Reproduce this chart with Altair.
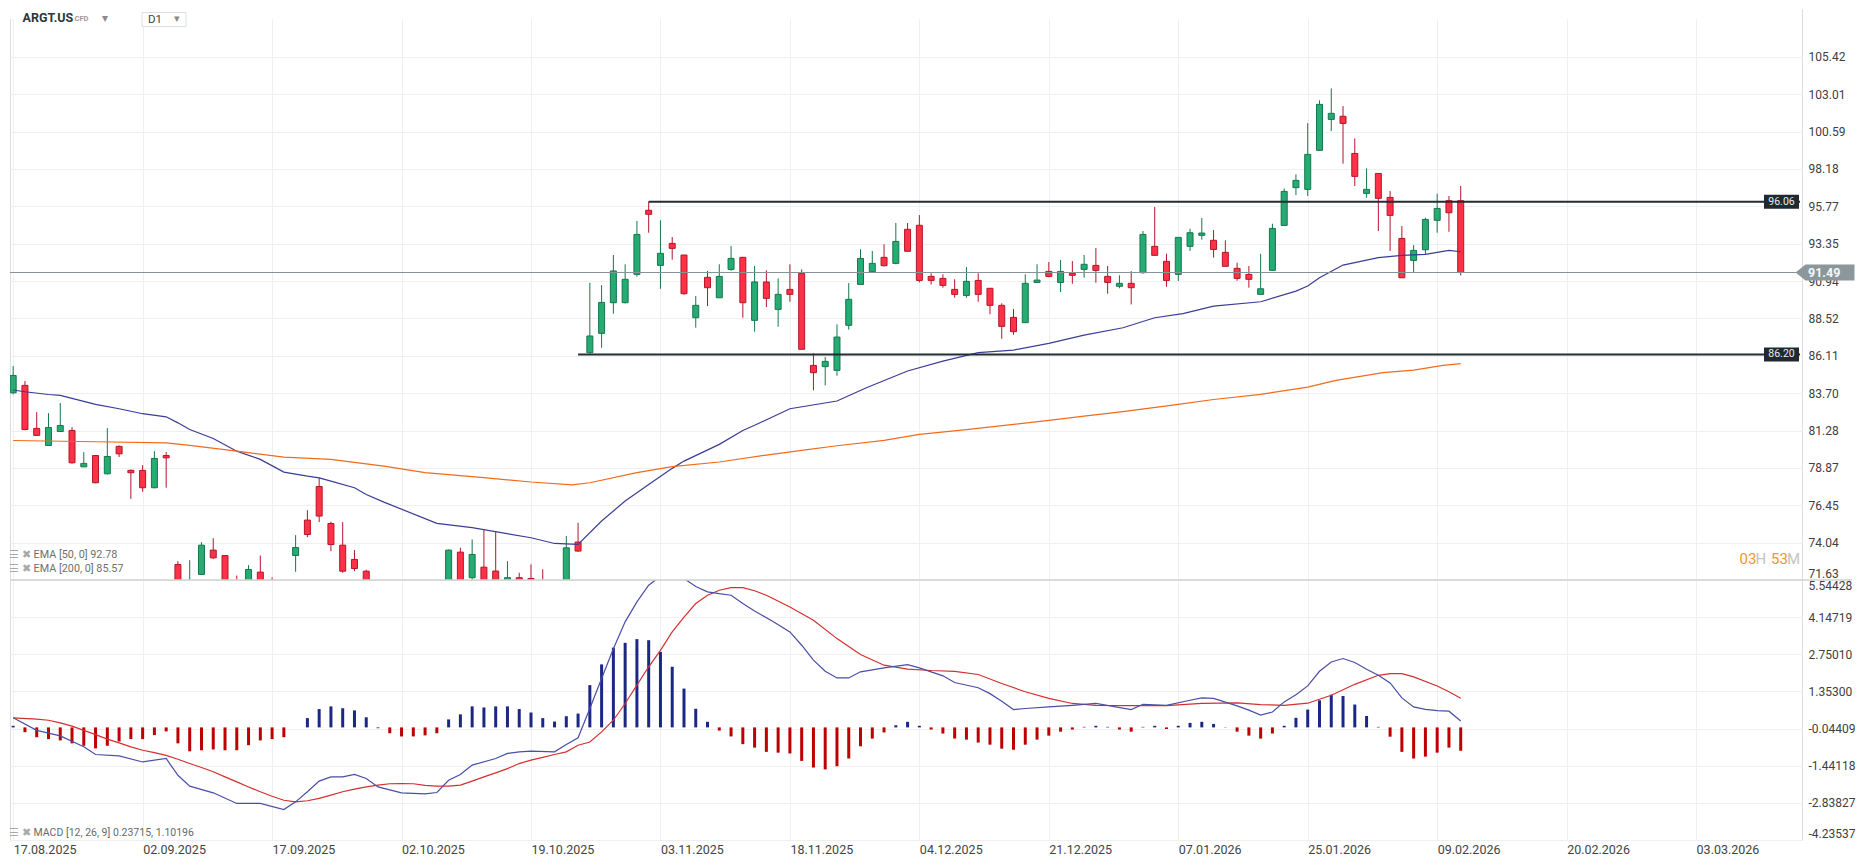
import altair as alt
import pandas as pd

# ---------------- data ----------------
OPEN = [83.72, 84.20, 81.42, 80.32, 81.22, 81.29, 78.94, 79.67, 78.49, 80.26,
        78.71, 78.71, 77.59, 79.67, 72.63, 70.60, 71.99, 73.56, 73.21, 71.50,
        71.00, 72.14, 71.30, 71.10, 73.21, 75.50, 77.67, 75.28, 73.88, 72.96,
        72.20, 71.00, 70.20, 70.00, 69.60, 70.40, 69.90, 70.80, 73.43, 71.78,
        72.46, 72.21, 71.50, 71.78, 71.73, 71.50, 71.00, 71.20, 74.08, 86.31,
        87.56, 89.54, 89.54, 91.37, 95.51, 91.95, 93.37, 92.62, 88.57, 91.18,
        89.86, 91.69, 92.47, 88.40, 90.88, 89.11, 90.40, 91.44, 85.49, 85.41,
        85.17, 88.08, 90.72, 91.54, 92.47, 92.08, 94.28, 94.54, 91.24, 91.11,
        90.40, 90.01, 90.98, 90.47, 89.37, 88.59, 88.25, 90.85, 91.56, 90.85,
        91.44, 91.69, 91.95, 91.24, 90.60, 90.79, 91.48, 93.18, 92.21, 91.37,
        93.18, 93.89, 93.57, 92.79, 91.76, 91.37, 90.08, 91.63, 94.53, 96.97,
        96.86, 99.38, 101.38, 101.58, 99.18, 96.60, 97.89, 96.34, 93.69, 92.27,
        92.96, 94.86, 96.13, 96.13]
HIGH = [85.45, 84.48, 82.47, 82.41, 83.06, 81.50, 79.89, 79.70, 81.44, 80.32,
        78.77, 79.05, 79.95, 79.89, 72.85, 72.91, 74.07, 74.33, 73.21, 71.92,
        72.59, 73.21, 71.80, 71.50, 74.53, 76.14, 78.23, 75.40, 75.37, 73.56,
        72.30, 71.40, 70.80, 70.60, 70.90, 70.80, 71.20, 73.60, 73.71, 74.25,
        74.90, 74.79, 72.85, 72.10, 72.64, 72.32, 71.50, 74.47, 75.33, 90.83,
        90.68, 92.62, 92.02, 94.82, 96.07, 94.86, 93.78, 92.62, 89.97, 91.59,
        92.02, 93.20, 92.50, 91.91, 91.63, 91.11, 92.02, 91.69, 86.27, 86.03,
        88.14, 90.81, 92.99, 92.88, 93.31, 94.69, 94.69, 95.20, 91.44, 91.37,
        91.05, 91.84, 91.44, 90.47, 89.50, 89.13, 91.37, 92.02, 92.17, 92.30,
        92.23, 92.62, 93.07, 91.91, 91.31, 91.58, 94.17, 95.72, 92.70, 93.76,
        94.32, 95.01, 94.23, 93.57, 92.12, 91.91, 92.70, 94.64, 96.92, 97.83,
        101.14, 102.61, 103.38, 102.24, 100.15, 98.22, 97.89, 96.75, 94.49, 93.26,
        95.03, 96.58, 96.43, 97.08]
LOW = [83.62, 81.30, 80.95, 80.30, 81.20, 79.14, 78.92, 77.88, 78.45, 79.57,
       76.87, 77.33, 77.55, 77.59, 70.90, 70.40, 71.95, 73.00, 70.70, 70.60,
       70.80, 70.80, 70.70, 70.30, 72.16, 74.40, 75.37, 73.49, 72.10, 72.20,
       70.70, 70.00, 69.50, 69.30, 69.20, 69.60, 69.70, 70.60, 71.00, 71.60,
       70.90, 71.00, 71.20, 71.20, 70.80, 70.70, 70.50, 71.00, 73.45, 86.25,
       86.63, 88.83, 89.50, 91.22, 94.06, 90.44, 92.32, 90.06, 87.93, 89.32,
       89.86, 91.60, 88.57, 87.67, 89.26, 87.99, 89.60, 86.53, 83.88, 84.20,
       84.82, 87.80, 90.72, 91.54, 91.88, 92.02, 92.86, 90.85, 90.72, 90.51,
       89.86, 89.86, 89.60, 88.79, 87.21, 87.47, 88.25, 90.85, 91.18, 90.23,
       90.77, 91.16, 90.83, 90.12, 90.47, 89.43, 91.41, 92.60, 90.57, 90.94,
       92.88, 93.61, 92.45, 91.89, 90.96, 90.51, 90.08, 91.63, 94.53, 96.49,
       96.43, 99.38, 100.63, 98.52, 97.08, 96.32, 94.17, 92.88, 91.15, 91.52,
       92.66, 94.06, 94.12, 91.30]
CLOSE = [84.84, 81.35, 80.97, 81.48, 81.61, 79.20, 79.16, 77.91, 79.61, 79.78,
         78.56, 77.59, 79.48, 79.52, 71.20, 71.40, 73.88, 73.06, 70.90, 70.80,
         72.31, 71.00, 70.90, 70.60, 73.73, 74.57, 75.76, 73.92, 72.20, 72.37,
         71.00, 70.20, 70.00, 69.60, 70.40, 69.90, 70.80, 73.56, 71.20, 73.28,
         71.20, 71.30, 71.78, 71.60, 71.00, 71.00, 71.20, 73.71, 73.50, 87.39,
         89.56, 91.59, 91.05, 93.95, 95.25, 92.73, 93.05, 90.12, 89.37, 90.51,
         91.24, 92.40, 89.54, 90.88, 89.82, 90.08, 90.08, 86.53, 85.02, 85.75,
         87.32, 89.76, 92.40, 92.08, 91.93, 93.50, 92.86, 90.98, 90.98, 90.66,
         90.08, 90.92, 90.08, 89.37, 88.01, 87.67, 90.79, 91.00, 91.24, 91.56,
         91.31, 92.02, 91.63, 90.85, 90.79, 90.51, 93.95, 92.60, 90.98, 93.76,
         94.06, 94.04, 92.98, 91.89, 91.11, 91.05, 90.44, 94.34, 96.73, 97.44,
         99.12, 102.35, 101.77, 101.12, 97.70, 96.86, 96.28, 95.18, 91.15, 92.92,
         94.92, 95.63, 95.35, 91.49]

EMA50_K = [0, 1, 3, 4, 5, 7, 9, 11, 13, 14, 15, 17, 19, 21, 23, 25, 26, 27, 29, 30,
           31.5, 36, 39, 44, 46, 48, 50, 52, 54, 56, 57, 60, 62, 63, 66, 70, 72.5, 76,
           79, 82, 85, 88, 91, 94.3, 97, 99.4, 102, 106, 109, 110, 111, 113, 116,
           118, 120, 122, 123]
EMA50_V = [83.90, 83.79, 83.61, 83.55, 83.36, 82.97, 82.69, 82.37, 82.17, 81.78,
           81.35, 80.77, 79.95, 79.42, 78.60, 78.34, 78.23, 78.02, 77.59, 77.15,
           76.66, 75.29, 75.01, 74.36, 73.99, 73.93, 75.44, 76.73, 77.80, 78.84,
           79.31, 80.39, 81.29, 81.62, 82.69, 83.19, 84.05, 85.13, 85.77, 86.31,
           86.48, 86.91, 87.45, 87.92, 88.57, 88.83, 89.32, 89.60, 90.29, 90.62,
           91.15, 91.97, 92.45, 92.60, 92.66, 92.92, 92.83]
EMA200_K = [0, 7, 13, 15, 19, 23, 27, 31.5, 35, 40, 44, 47.5, 49, 53, 56, 60, 64,
            67, 70, 74, 77, 81, 85, 88, 91, 94.3, 99, 102, 106, 110, 112.4, 116.4,
            119, 121.5, 123]
EMA200_V = [80.64, 80.56, 80.49, 80.32, 79.95, 79.57, 79.42, 78.98, 78.56, 78.24,
            77.96, 77.78, 77.91, 78.56, 78.95, 79.25, 79.70, 80.00, 80.30, 80.65,
            81.03, 81.34, 81.68, 81.94, 82.22, 82.50, 82.97, 83.29, 83.62, 84.09,
            84.52, 85.02, 85.19, 85.49, 85.60]

HIST = [0.06, -0.18, -0.37, -0.44, -0.49, -0.60, -0.69, -0.79, -0.69, -0.53,
        -0.44, -0.44, -0.29, -0.15, -0.60, -0.90, -0.86, -0.83, -0.86, -0.86,
        -0.67, -0.49, -0.44, -0.37, 0.00, 0.35, 0.69, 0.79, 0.72, 0.64,
        0.38, -0.03, -0.22, -0.34, -0.34, -0.30, -0.22, 0.30, 0.49, 0.79,
        0.75, 0.79, 0.79, 0.69, 0.56, 0.35, 0.22, 0.42, 0.52, 1.59,
        2.37, 3.00, 3.18, 3.32, 3.28, 2.84, 2.28, 1.46, 0.70, 0.21,
        -0.12, -0.34, -0.63, -0.76, -0.92, -0.95, -0.98, -1.26, -1.51, -1.58,
        -1.46, -1.17, -0.71, -0.42, -0.19, 0.08, 0.21, 0.06, -0.08, -0.23,
        -0.42, -0.46, -0.57, -0.65, -0.80, -0.84, -0.65, -0.46, -0.31, -0.16,
        -0.08, 0.02, 0.06, 0.02, -0.08, -0.16, 0.02, 0.06, -0.06, 0.06,
        0.17, 0.21, 0.13, 0.01, -0.16, -0.31, -0.42, -0.23, 0.06, 0.36,
        0.67, 1.02, 1.23, 1.18, 0.86, 0.43, 0.02, -0.35, -0.92, -1.17,
        -1.10, -0.95, -0.76, -0.88]

MACD_K = [0, 2, 4, 6, 7, 9, 11, 13, 14, 15, 17, 19, 21, 23, 24, 25, 26, 27, 28, 29,
          30, 31, 33, 35, 36, 37, 38, 39, 41, 42, 43, 44, 46, 47, 48, 49, 50, 51, 52,
          53, 54, 55, 56, 57, 58, 59, 60, 61, 62, 63, 64.6, 66, 67, 68, 69, 70, 71,
          72, 74, 76, 77, 79, 80, 82, 83, 84, 85, 86, 88, 90, 92, 95, 96, 98, 100,
          101, 102, 104, 105, 106, 107, 108, 109, 110, 111, 112, 113, 114, 115, 116,
          117, 118, 119, 120, 121, 122, 123]
MACD_V = [0.36, -0.11, -0.32, -0.73, -1.02, -1.07, -1.30, -1.17, -1.80, -2.21,
          -2.46, -2.86, -2.86, -3.09, -2.80, -2.42, -2.02, -1.86, -1.86, -1.77,
          -1.92, -2.24, -2.46, -2.50, -2.45, -1.99, -1.77, -1.42, -1.17, -0.98,
          -0.92, -0.89, -0.92, -0.64, -0.39, 0.71, 1.84, 2.96, 3.97, 4.72,
          5.35, 5.68, 5.85, 5.60, 5.30, 5.10, 5.03, 4.97, 4.66, 4.38,
          3.97, 3.59, 3.09, 2.53, 2.11, 1.86, 1.86, 2.09, 2.24, 2.36,
          2.24, 1.94, 1.69, 1.49, 1.27, 0.98, 0.67, 0.71, 0.77, 0.83,
          0.90, 0.67, 0.87, 0.83, 1.02, 1.11, 1.09, 0.81, 0.65, 0.46,
          0.58, 0.96, 1.23, 1.56, 2.11, 2.46, 2.59, 2.44, 2.19, 1.96,
          1.67, 1.11, 0.77, 0.68, 0.63, 0.61, 0.24]
SIG_K = [0, 2, 3, 4, 5, 6, 7, 8, 9, 10, 11, 12, 13, 14, 15, 16, 17, 18, 19, 20, 21,
         22, 23, 24, 25, 26, 27, 28, 29, 30, 31, 32, 33, 34, 35, 36, 37, 38, 39, 40,
         41, 42, 43, 44, 45, 46, 47, 48, 49, 50, 51, 52, 53, 54, 55, 56, 57, 58, 59,
         60, 61, 62, 63, 64, 66, 68, 70, 72, 74, 76, 78, 80, 82, 84, 86, 88, 90, 92,
         95, 98, 101, 104, 106, 108, 110, 112, 114, 116, 117, 118, 119, 121, 122, 123]
SIG_V = [0.36, 0.31, 0.27, 0.17, 0.05, -0.11, -0.27, -0.44, -0.58, -0.73, -0.86,
         -0.95, -1.05, -1.20, -1.36, -1.51, -1.67, -1.86, -2.05, -2.24, -2.42,
         -2.59, -2.74, -2.80, -2.76, -2.67, -2.55, -2.42, -2.32, -2.24, -2.17,
         -2.12, -2.11, -2.12, -2.18, -2.21, -2.21, -2.17, -2.02, -1.86, -1.71,
         -1.55, -1.36, -1.23, -1.13, -1.02, -0.92, -0.67, -0.55, -0.17, 0.27,
         0.90, 1.59, 2.28, 2.90, 3.59, 4.15, 4.66, 4.97, 5.16, 5.26, 5.26, 5.14,
         4.97, 4.53, 4.03, 3.34, 2.74, 2.34, 2.19, 2.14, 2.11, 1.99, 1.65, 1.34,
         1.09, 0.90, 0.83, 0.82, 0.82, 0.90, 0.92, 0.86, 0.83, 0.91, 1.21, 1.62,
         1.96, 2.02, 2.02, 1.90, 1.56, 1.34, 1.10]

PRICE_TICKS = [71.63, 74.04, 76.45, 78.87, 81.28, 83.70, 86.11, 88.52, 90.94,
               93.35, 95.77, 98.18, 100.59, 103.01, 105.42]
MACD_TICKS = [-4.23537, -2.83827, -1.44118, -0.04409, 1.35300, 2.75010, 4.14719, 5.54428]
DATE_LABELS = ["17.08.2025", "02.09.2025", "17.09.2025", "02.10.2025", "19.10.2025",
               "03.11.2025", "18.11.2025", "04.12.2025", "21.12.2025", "07.01.2026",
               "25.01.2026", "09.02.2026", "20.02.2026", "03.03.2026"]
LEVELS = [96.06, 86.20]
LEVEL_START = [54, 48]
LAST_PRICE = [91.49]

# ---------------- tables ----------------
candles = pd.DataFrame({"k": list(range(len(OPEN))), "o": OPEN, "h": HIGH, "l": LOW, "c": CLOSE})
ema50 = pd.DataFrame({"k": EMA50_K, "v": EMA50_V})
ema200 = pd.DataFrame({"k": EMA200_K, "v": EMA200_V})
hist = pd.DataFrame({"k": list(range(len(HIST))), "h": HIST})
macd = pd.DataFrame({"k": MACD_K, "v": MACD_V})
sig = pd.DataFrame({"k": SIG_K, "v": SIG_V})
levels = pd.DataFrame({"k": LEVEL_START, "level": LEVELS})
last = pd.DataFrame({"p": LAST_PRICE})
DUMMY = pd.DataFrame({"n": [0]})

# ---------------- styling ----------------
W = 1792
H_MAIN = 571
H_MACD = 260
FONT = "Roboto"
GRID = "#efefef"
G_BODY, G_EDGE = "#25ab73", "#13784b"
R_BODY, R_EDGE = "#fe3247", "#b3162b"

XS = alt.Scale(domain=[-0.27, 152.0], nice=False, zero=False, padding=0)
YS_MAIN = alt.Scale(domain=[71.63, 108.51], nice=False, zero=False, padding=0)
YS_MACD = alt.Scale(domain=[-4.23537, 5.54428], nice=False, zero=False, padding=0)

grid_vals = [11 * i for i in range(len(DATE_LABELS))]
AX_X_MAIN = alt.Axis(values=grid_vals, labels=False, ticks=False, domain=False,
                     grid=True, gridColor=GRID, title=None, zindex=0)
label_arr = "[" + ",".join("'%s'" % d for d in DATE_LABELS) + "]"
AX_X_MACD = alt.Axis(values=grid_vals, labelExpr=label_arr + "[round(datum.value/11)]",
                     labelAlign="left", labelPadding=3, labelFlush=False, labelOverlap=False,
                     labelFontSize=12.5, labelColor="#444444", labelFont=FONT,
                     ticks=False, domain=False, grid=True, gridColor=GRID,
                     title=None, zindex=0)
AX_Y_MAIN = alt.Axis(orient="right", values=PRICE_TICKS, format=".2f", labelFlush=True,
                     labelPadding=6, ticks=False, domain=False, grid=True, gridColor=GRID,
                     labelColor="#404040", labelFontSize=12, labelFont=FONT,
                     title=None, zindex=0)
AX_Y_MACD = alt.Axis(orient="right", values=MACD_TICKS,
                     labelExpr="replace(format(datum.value, '.5f'), '\u2212', '-')",
                     labelFlush=True, labelPadding=6, ticks=False, domain=False,
                     grid=True, gridColor=GRID, labelColor="#404040", labelFontSize=12,
                     labelFont=FONT, title=None, zindex=0)


def xm(f="k"):
    return alt.X(f + ":Q", scale=XS, axis=AX_X_MAIN)


def ym(f):
    return alt.Y(f + ":Q", scale=YS_MAIN, axis=AX_Y_MAIN)


def xb(f="k"):
    return alt.X(f + ":Q", scale=XS, axis=AX_X_MACD)


def yb(f):
    return alt.Y(f + ":Q", scale=YS_MACD, axis=AX_Y_MACD)


def txt(text, x, y, size=11, color="#777777", weight="normal", align="left"):
    return alt.Chart(DUMMY).mark_text(text=text, align=align, baseline="middle",
                                      fontSize=size, color=color, fontWeight=weight,
                                      font=FONT).encode(x=alt.value(x), y=alt.value(y))


up = "datum.c >= datum.o"

# ---------------- main price panel ----------------
wicks = alt.Chart(candles).mark_rule(strokeWidth=1, clip=True).encode(
    x=xm(), y=ym("l"), y2="h:Q",
    color=alt.condition(up, alt.value(G_EDGE), alt.value(R_EDGE)))
bodies = alt.Chart(candles).mark_bar(size=6, strokeWidth=1, clip=True, orient="vertical").encode(
    x=xm(), y=ym("o"), y2="c:Q",
    fill=alt.condition(up, alt.value(G_BODY), alt.value(R_BODY)),
    stroke=alt.condition(up, alt.value(G_EDGE), alt.value(R_EDGE)))
e50 = alt.Chart(ema50).mark_line(color="#3a3d96", strokeWidth=1.2, clip=True).encode(x=xm(), y=ym("v"))
e200 = alt.Chart(ema200).mark_line(color="#f26a1b", strokeWidth=1.2, clip=True).encode(x=xm(), y=ym("v"))
last_rule = alt.Chart(last).mark_rule(color="#85939a", strokeWidth=1).encode(
    x=alt.value(0), x2=alt.value(W), y=ym("p"))
lvl_rules = alt.Chart(levels).mark_rule(color="#232d33", strokeWidth=2).encode(
    x=xm(), x2=alt.value(W - 2), y=ym("level"))
lvl_box = alt.Chart(levels).mark_rect(color="#1f292f", yOffset=-7, y2Offset=7).encode(
    x=alt.value(1754), x2=alt.value(1789), y=ym("level"), y2="level:Q")
lvl_txt = alt.Chart(levels).mark_text(color="#e9ecee", fontSize=10.5, font=FONT, align="center",
                                      baseline="middle").encode(
    x=alt.value(1771.5), y=ym("level"), text=alt.Text("level:Q", format=".2f"))
tag = alt.Chart(last).mark_point(shape="M-1,0L-0.66,-0.27L1,-0.27L1,0.27L-0.66,0.27Z",
                                 size=3481, filled=True, color="#8c979c", opacity=1,
                                 strokeWidth=0).encode(x=alt.value(1815), y=ym("p"))
tag_txt = alt.Chart(last).mark_text(color="#f5f7f8", fontSize=12.5, fontWeight="bold", font=FONT,
                                    align="left", baseline="middle").encode(
    x=alt.value(1798), y=ym("p"), text=alt.Text("p:Q", format=".2f"))
top_band = alt.Chart(DUMMY).mark_rect(color="white").encode(
    x=alt.value(0), x2=alt.value(W), y=alt.value(0), y2=alt.value(10))
d1_box = alt.Chart(DUMMY).mark_rect(fill="white", stroke="#dddddd", strokeWidth=1).encode(
    x=alt.value(132), x2=alt.value(176), y=alt.value(3.5), y2=alt.value(17.5))

main = alt.layer(
    top_band, wicks, bodies, e50, e200, last_rule, lvl_rules, lvl_box, lvl_txt, tag, tag_txt,
    d1_box,
    txt("ARGT.US", 12.5, 9, size=12.5, color="#2c363c", weight="bold"),
    txt("CFD", 64.5, 9.8, size=7.5, color="#9a9a9a", weight="bold"),
    txt("\u25be", 92, 8.5, size=12, color="#8a8a8a"),
    txt("D1", 138, 10.5, size=11.5, color="#444444"),
    txt("\u25be", 164, 10, size=11, color="#8a8a8a"),
    txt("\u2630 \u2716", -1, 546, size=11, color="#a8a8a8"),
    txt("EMA [50,  0] 92.78", 23.5, 546, size=10.8, color="#6f6f6f"),
    txt("\u2630 \u2716", -1, 560, size=11, color="#a8a8a8"),
    txt("EMA [200,  0] 85.57", 23.5, 560, size=10.8, color="#6f6f6f"),
    txt("03", 1729.5, 550, size=15, color="#f7931e"),
    txt("H", 1745.5, 550, size=15, color="#c4c4c4"),
    txt("53", 1761, 550, size=15, color="#f7931e"),
    txt("M", 1777, 550, size=15, color="#c4c4c4"),
).properties(width=W, height=H_MAIN)

# ---------------- MACD panel ----------------
bars = alt.Chart(hist).mark_bar(size=3, clip=True, orient="vertical").encode(
    x=xb(), y=yb("h"), y2=alt.datum(0),
    color=alt.condition("datum.h >= 0", alt.value("#1b2784"), alt.value("#bd0000")))
macd_line = alt.Chart(macd).mark_line(color="#4a4ea5", strokeWidth=1.2, clip=True).encode(
    x=xb(), y=yb("v"))
sig_line = alt.Chart(sig).mark_line(color="#d3302e", strokeWidth=1.2, clip=True).encode(
    x=xb(), y=yb("v"))
divider = alt.Chart(DUMMY).mark_rule(color="#d0d0d0", strokeWidth=1.5).encode(
    x=alt.value(0), x2=alt.value(1842), y=alt.value(0))

macd_panel = alt.layer(
    bars, sig_line, macd_line, divider,
    txt("\u2630 \u2716", -1, 253, size=11, color="#a8a8a8"),
    txt("MACD [12, 26, 9] 0.23715,  1.10196", 23.5, 253, size=10.5, color="#6a6a6a"),
).properties(width=W, height=H_MACD)

chart = alt.vconcat(main, macd_panel, spacing=0, bounds="flush", padding=0).configure_view(
    strokeWidth=0).configure(font=FONT)

chart.save("out.html", embed_options={"renderer": "svg", "actions": False})
